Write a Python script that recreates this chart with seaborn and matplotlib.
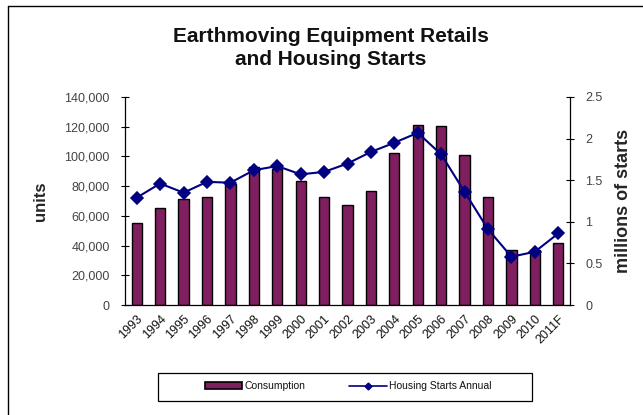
import numpy as np
import pandas as pd
import matplotlib
matplotlib.use("Agg")
import matplotlib.pyplot as plt
from matplotlib.lines import Line2D
from matplotlib.patches import Patch, Rectangle
import seaborn as sns

years = ["1993", "1994", "1995", "1996", "1997", "1998", "1999", "2000", "2001", "2002",
         "2003", "2004", "2005", "2006", "2007", "2008", "2009", "2010", "2011F"]
consumption = [55000, 65500, 71300, 73000, 81300, 92700, 91400, 83700, 73000, 67300,
               77000, 102200, 121000, 120300, 101000, 72900, 36700, 36700, 41800]
housing_starts = [1.29, 1.46, 1.35, 1.48, 1.47, 1.62, 1.67, 1.57, 1.60, 1.70,
                  1.84, 1.95, 2.07, 1.81, 1.36, 0.91, 0.58, 0.64, 0.86]
left_ticks = [0, 20000, 40000, 60000, 80000, 100000, 120000, 140000]
right_ticks = [0, 0.5, 1, 1.5, 2, 2.5]
right_tick_labels = ["0", "0.5", "1", "1.5", "2", "2.5"]

df = pd.DataFrame({"year": years, "consumption": consumption, "starts": housing_starts})

sns.set_theme(style="white")
plt.rcParams["font.family"] = ["Liberation Sans", "DejaVu Sans"]

BAR = "#7f1f5f"
LINE = "#000080"
GREY = "#444444"

fig = plt.figure(figsize=(6.43, 4.15), dpi=100)
ax = fig.add_axes([125 / 643, 1 - 305 / 415, 445 / 643, 208 / 415])

sns.barplot(data=df, x="year", y="consumption", color=BAR, width=0.44,
            edgecolor="black", linewidth=1.0, saturation=1, ax=ax)

ax2 = ax.twinx()
sns.pointplot(data=df, x="year", y="starts", color=LINE, markers="D",
              linestyles="-", markersize=6.5, linewidth=1.5, ax=ax2)

ax.set_xlim(-0.5, len(years) - 0.5)
ax2.set_xlim(-0.5, len(years) - 0.5)
ax.set_ylim(0, 140000)
ax2.set_ylim(0, 2.5)

ax.set_yticks(left_ticks)
ax.set_yticklabels([f"{v:,}" for v in left_ticks])
ax2.set_yticks(right_ticks)
ax2.set_yticklabels(right_tick_labels)

# category labels centred, tick marks on category boundaries
ax.set_xticks(np.arange(len(years)))
ax.set_xticklabels(years, rotation=45, ha="right", rotation_mode="anchor")
ax.set_xticks(np.arange(len(years) + 1) - 0.5, minor=True)
ax.tick_params(axis="x", which="major", length=0, pad=6, labelsize=9, labelcolor="#111111")
ax.tick_params(axis="x", which="minor", length=6, width=0.8, direction="inout", color="black")
ax.tick_params(axis="y", length=6, width=0.8, direction="inout", color="black",
               labelsize=9, labelcolor=GREY, pad=8, left=True)
ax2.tick_params(axis="y", length=6, width=0.8, direction="inout", color="black",
                labelsize=9, labelcolor=GREY, pad=8, right=True)

for a in (ax, ax2):
    a.set_xlabel("")
    a.spines["top"].set_visible(False)
    for s in ("left", "right", "bottom"):
        a.spines[s].set_color("black")
        a.spines[s].set_linewidth(0.9)
ax.spines["right"].set_visible(False)
ax2.spines["left"].set_visible(False)
ax2.spines["bottom"].set_visible(False)

ax.set_ylabel("units", fontsize=12, fontweight="bold", labelpad=12)
ax2.set_ylabel("millions of starts", fontsize=13, fontweight="bold", labelpad=9)

fig.text(331 / 643, 1 - 48 / 415, "Earthmoving Equipment Retails\nand Housing Starts",
         ha="center", va="center", fontsize=15, fontweight="bold",
         linespacing=1.32, color="#111111")

handles = [Patch(facecolor=BAR, edgecolor="black", linewidth=1.2, label="Consumption"),
           Line2D([0], [0], color=LINE, marker="D", markersize=3.5, linewidth=1.2,
                  label="Housing Starts Annual")]
leg = fig.legend(handles=handles, loc="center", bbox_to_anchor=(348 / 643, 1 - 386 / 415),
                 ncol=2, fontsize=7.5, frameon=False,
                 handlelength=3.6, handleheight=0.6, columnspacing=4.2,
                 handletextpad=0.2)
for t in leg.get_texts():
    t.set_color("#111111")
fig.add_artist(Rectangle((158 / 643, 1 - 401 / 415), 374 / 643, 28 / 415,
                         transform=fig.transFigure, fill=False,
                         edgecolor="black", linewidth=0.9))

# outer frame of the chart area
fig.add_artist(Line2D([8 / 643, 8 / 643], [0, 1 - 6 / 415], color="black",
                      linewidth=1.0, transform=fig.transFigure))
fig.add_artist(Line2D([8 / 643, 1], [1 - 6 / 415, 1 - 6 / 415], color="black",
                      linewidth=1.0, transform=fig.transFigure))

fig.savefig("out.png", dpi=100, facecolor="white")
